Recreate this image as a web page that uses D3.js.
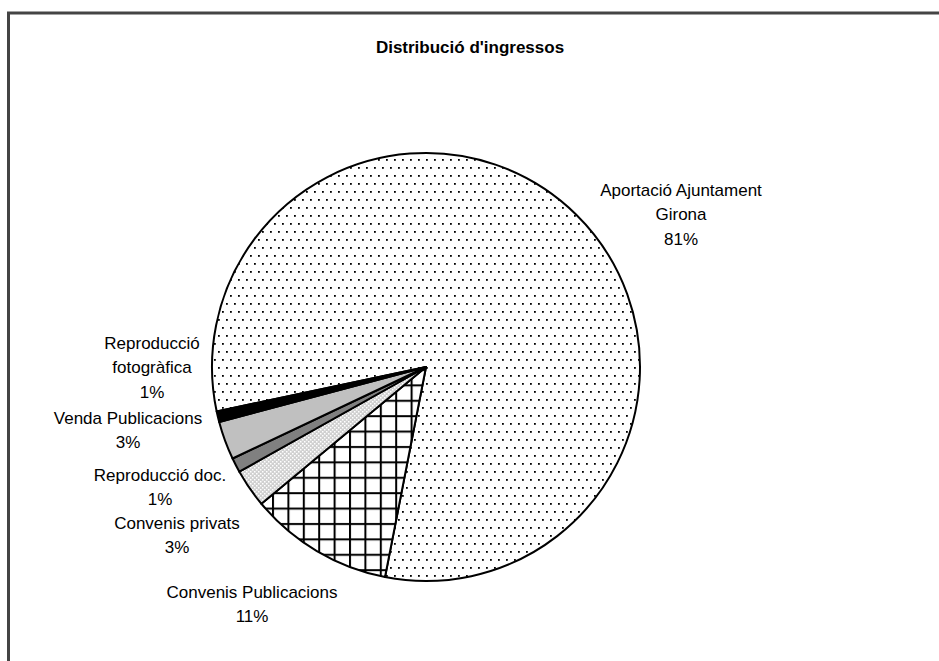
<!DOCTYPE html>
<html>
<head>
<meta charset="utf-8">
<script src="https://cdn.jsdelivr.net/npm/d3@7"></script>
<style>
  body { margin: 0; background: #fff; }
  svg { display: block; font-family: "Liberation Sans", Arial, sans-serif; }
</style>
</head>
<body>
<div class="card"></div>
<script>
/* global d3 */

// data
var categories = ["Aportació Ajuntament Girona", "Convenis Publicacions", "Convenis privats",
                  "Reproducció doc.", "Venda Publicacions", "Reproducció fotogràfica"];
var values = [81.4, 10.9, 2.9, 1.1, 2.9, 0.8];
var labelLines = [["Aportació Ajuntament", "Girona"], ["Convenis Publicacions"], ["Convenis privats"],
                  ["Reproducció doc."], ["Venda Publicacions"], ["Reproducció", "fotogràfica"]];
var fills = ["url(#dots)", "url(#grid)", "url(#fine)", "#808080", "#c0c0c0", "#000"];

// where each label block sits (centre of first line)
var labelAt = [[681, 190], [252, 592], [177, 523], [160, 475], [128, 418], [152, 343]];

var width = 939,
    height = 661,
    cx = 426,
    cy = 367,
    radius = 214,
    lineH = 24.5;

var svg = d3.select(".card").append("svg")
    .attr("width", width)
    .attr("height", height);

var defs = svg.append("defs");

// sparse staggered dots
var dots = defs.append("pattern").attr("id", "dots")
    .attr("patternUnits", "userSpaceOnUse").attr("width", 8).attr("height", 16);
dots.append("rect").attr("width", 8).attr("height", 16).attr("fill", "#fff");
dots.append("rect").attr("x", 0).attr("y", 0).attr("width", 1.8).attr("height", 1.8).attr("fill", "#000");
dots.append("rect").attr("x", 4).attr("y", 8).attr("width", 1.8).attr("height", 1.8).attr("fill", "#000");

var grid = defs.append("pattern").attr("id", "grid")
    .attr("patternUnits", "userSpaceOnUse").attr("width", 15.4).attr("height", 15.4);
grid.append("rect").attr("width", 15.4).attr("height", 15.4).attr("fill", "#fff");
grid.append("rect").attr("x", 0).attr("y", 0).attr("width", 2).attr("height", 15.4).attr("fill", "#000");
grid.append("rect").attr("x", 0).attr("y", 2).attr("width", 15.4).attr("height", 2).attr("fill", "#000");

var fine = defs.append("pattern").attr("id", "fine")
    .attr("patternUnits", "userSpaceOnUse").attr("width", 4).attr("height", 4);
fine.append("rect").attr("width", 4).attr("height", 4).attr("fill", "#d0d0d0");
fine.append("rect").attr("x", 0).attr("y", 0).attr("width", 1.5).attr("height", 1.5).attr("fill", "#fff");
fine.append("rect").attr("x", 2).attr("y", 2).attr("width", 1.5).attr("height", 1.5).attr("fill", "#fff");

// chart frame
svg.append("rect")
    .attr("x", 8.5).attr("y", 13)
    .attr("width", width + 20).attr("height", height + 20)
    .attr("fill", "none").attr("stroke", "#444").attr("stroke-width", 3);

svg.append("text")
    .attr("x", 470).attr("y", 47)
    .attr("dy", "0.35em")
    .attr("text-anchor", "middle")
    .style("font-size", "17px").style("font-weight", "bold")
    .text("Distribució d'ingressos");

var start = -102 * Math.PI / 180;
var pie = d3.pie()
    .sort(null)
    .startAngle(start)
    .endAngle(start + 2 * Math.PI)
    .value(function(d) { return d; });

var arc = d3.arc().innerRadius(0).outerRadius(radius);

var g = svg.append("g").attr("transform", "translate(" + cx + "," + cy + ")");

g.selectAll("path.slice").data(pie(values)).enter().append("path")
    .attr("class", "slice")
    .attr("d", arc)
    .attr("fill", function(d, i) { return fills[i]; })
    .attr("stroke", "#000")
    .attr("stroke-width", 2)
    .attr("stroke-linejoin", "round");

var labels = svg.selectAll("g.lbl").data(values).enter().append("g")
    .attr("class", "lbl")
    .attr("transform", function(d, i) { return "translate(" + labelAt[i][0] + "," + labelAt[i][1] + ")"; });

labels.each(function(v, i) {
    var lines = labelLines[i].concat([Math.round(v) + "%"]);
    d3.select(this).selectAll("text").data(lines).enter().append("text")
        .attr("x", 0)
        .attr("y", function(t, k) { return k * lineH; })
        .attr("dy", "0.35em")
        .attr("text-anchor", "middle")
        .style("font-size", "17px")
        .attr("fill", "#000")
        .text(function(t) { return t; });
});
</script>
</body>
</html>
